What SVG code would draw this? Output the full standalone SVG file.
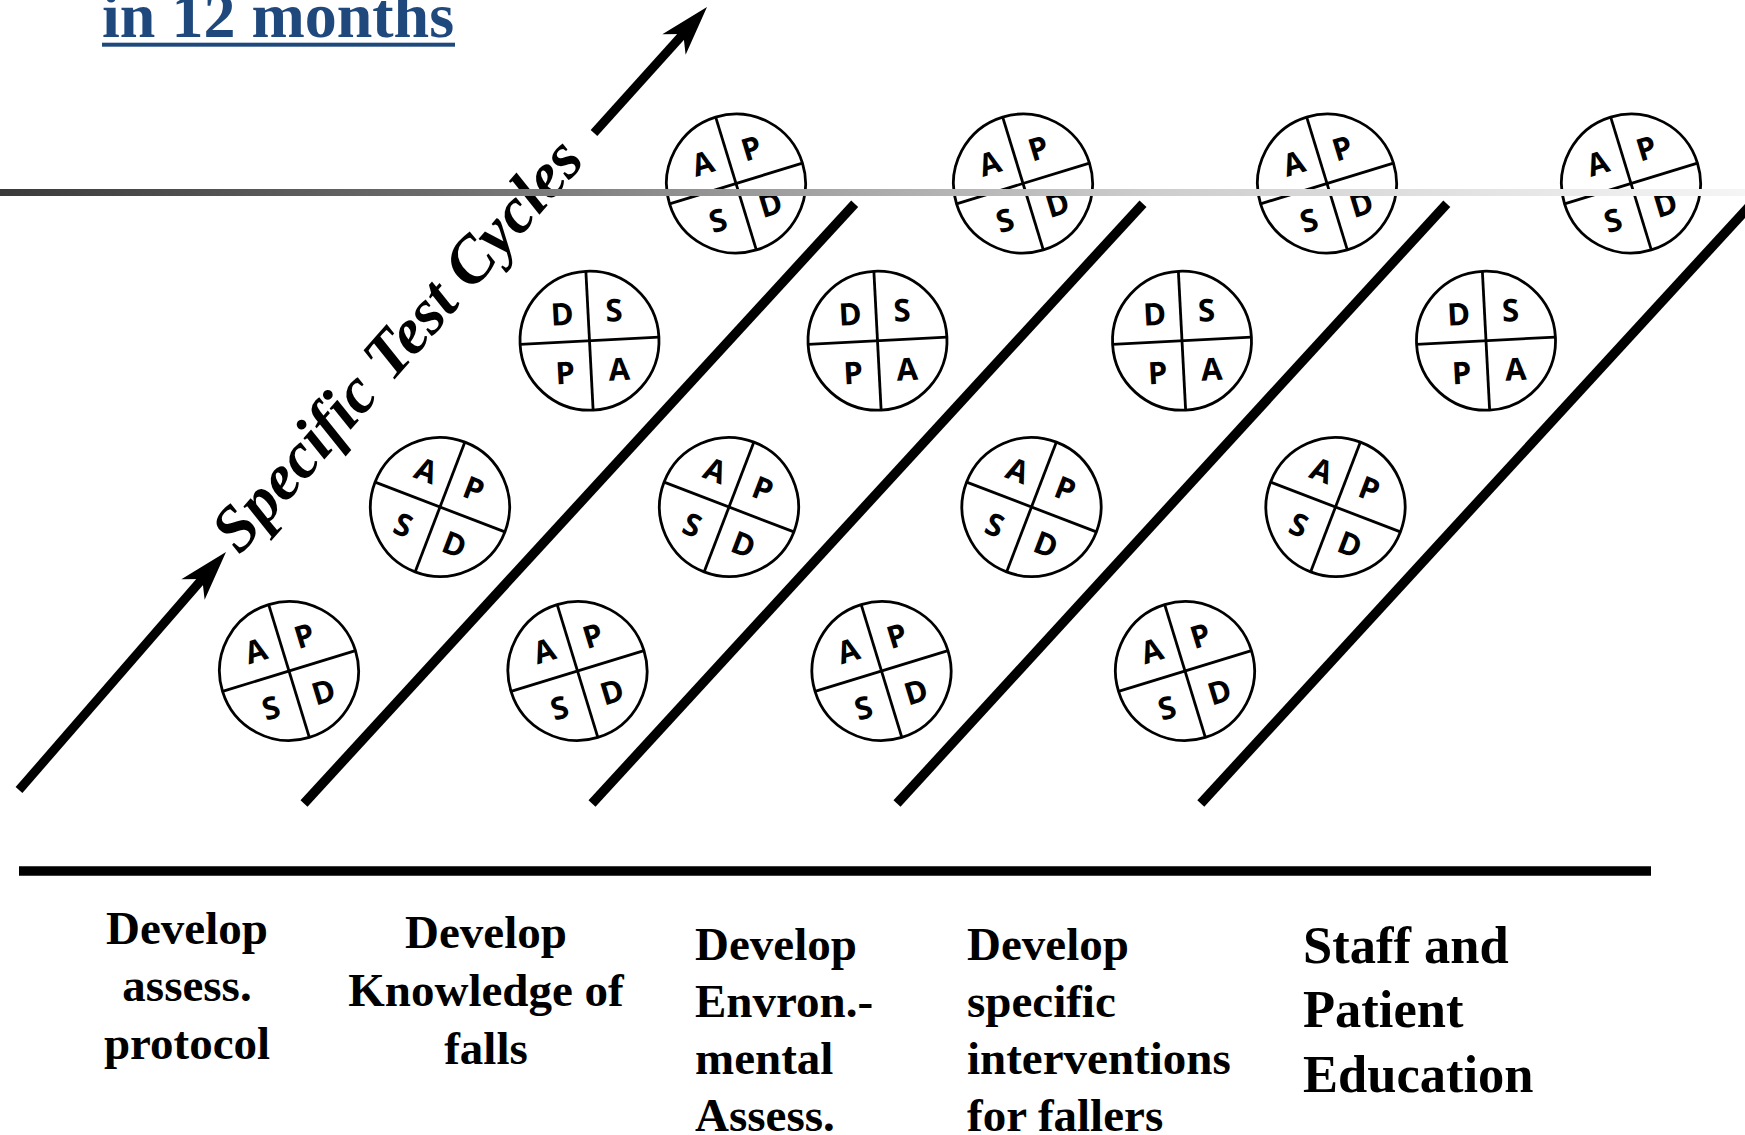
<svg xmlns="http://www.w3.org/2000/svg" width="1745" height="1135" viewBox="0 0 1745 1135">
  <style>
    .ring { fill: #ffffff; stroke: #000000; stroke-width: 2.8; }
    .cross { fill: none; stroke: #000000; stroke-width: 2.8; }
    .ltr { font-family: "Open Sans", "DejaVu Sans", sans-serif; font-weight: 700; font-size: 31px; fill: #000000; text-anchor: middle; }
    .sep { stroke: #000000; stroke-width: 9.5; stroke-linecap: butt; fill: none; }
    .shaft { stroke: #000000; stroke-width: 9; stroke-linecap: butt; fill: none; }
    .label { font-family: "Liberation Serif", "Times New Roman", serif; font-weight: bold; font-size: 47px; fill: #000000; }
    .label-lg { font-size: 52.5px; }
    .title { font-family: "Liberation Serif", "Times New Roman", serif; font-weight: bold; font-size: 64px; fill: #1f497d; }
    .diag { font-family: "Liberation Serif", "Times New Roman", serif; font-weight: bold; font-style: italic; font-size: 65px; fill: #000000; }
  </style>
  <defs>
    <linearGradient id="fade" x1="0" y1="0" x2="1745" y2="0" gradientUnits="userSpaceOnUse">
      <stop offset="0" stop-color="#3a3a3a"/>
      <stop offset="0.25" stop-color="#6c6c6c"/>
      <stop offset="0.46" stop-color="#a2a2a2"/>
      <stop offset="0.66" stop-color="#cdcdcd"/>
      <stop offset="1" stop-color="#f5f5f5"/>
    </linearGradient>
    <path id="head" d="M0,0 L-50,-15.5 L-36,0 L-50,15.5 Z" fill="#000000"/>
  </defs>

  <rect width="1745" height="1135" fill="#ffffff"/>

  <!-- heading -->
  <g id="title">
    <text class="title" x="102" y="37">in 12 months</text>
    <rect x="102" y="42.7" width="353" height="4" fill="#1f497d"/>
  </g>

  <!-- separators, baseline and the progress arrow -->
  <g id="connectors">
    <line class="sep" x1="304" y1="803.5" x2="854.7" y2="203.7"/>
    <line class="sep" x1="592" y1="803.5" x2="1143" y2="203.7"/>
    <line class="sep" x1="897" y1="803.5" x2="1446.8" y2="203.7"/>
    <line class="sep" x1="1200.8" y1="803.5" x2="1751.7" y2="203.7"/>
    <line class="sep" x1="19" y1="871" x2="1651" y2="871" stroke-width="10"/>
    <line class="shaft" x1="19" y1="790" x2="204" y2="577"/>
    <use href="#head" transform="translate(226,552) rotate(-48.7)"/>
    <line class="shaft" x1="594" y1="133" x2="685" y2="32"/>
    <use href="#head" transform="translate(707,7) rotate(-48.7)"/>
  </g>

  <g id="axis-label">
    <text class="diag" transform="translate(405,345) rotate(-48.7)" x="-5" y="15" text-anchor="middle">Specific Test Cycles</text>
  </g>

  <!-- PDSA cycles, row 1 -->
  <g id="cycle-1-1" transform="translate(736,183.5) rotate(-17)">
    <circle class="ring" r="69.5"/><line class="cross" x1="0" y1="-69.5" x2="0" y2="69.5"/><line class="cross" x1="-69.5" y1="0" x2="69.5" y2="0"/>
    <text class="ltr" x="-26" y="-18">A</text><text class="ltr" x="25" y="-18">P</text><text class="ltr" x="-28" y="41">S</text><text class="ltr" x="27" y="41">D</text>
  </g>
  <g id="cycle-1-2" transform="translate(1023,183.5) rotate(-17)">
    <circle class="ring" r="69.5"/><line class="cross" x1="0" y1="-69.5" x2="0" y2="69.5"/><line class="cross" x1="-69.5" y1="0" x2="69.5" y2="0"/>
    <text class="ltr" x="-26" y="-18">A</text><text class="ltr" x="25" y="-18">P</text><text class="ltr" x="-28" y="41">S</text><text class="ltr" x="27" y="41">D</text>
  </g>
  <g id="cycle-1-3" transform="translate(1327,183.5) rotate(-17)">
    <circle class="ring" r="69.5"/><line class="cross" x1="0" y1="-69.5" x2="0" y2="69.5"/><line class="cross" x1="-69.5" y1="0" x2="69.5" y2="0"/>
    <text class="ltr" x="-26" y="-18">A</text><text class="ltr" x="25" y="-18">P</text><text class="ltr" x="-28" y="41">S</text><text class="ltr" x="27" y="41">D</text>
  </g>
  <g id="cycle-1-4" transform="translate(1631,183.5) rotate(-17)">
    <circle class="ring" r="69.5"/><line class="cross" x1="0" y1="-69.5" x2="0" y2="69.5"/><line class="cross" x1="-69.5" y1="0" x2="69.5" y2="0"/>
    <text class="ltr" x="-26" y="-18">A</text><text class="ltr" x="25" y="-18">P</text><text class="ltr" x="-28" y="41">S</text><text class="ltr" x="27" y="41">D</text>
  </g>

  <!-- row 2 -->
  <g id="cycle-2-1" transform="translate(589.5,340.7) rotate(-3)">
    <circle class="ring" r="69.5"/><line class="cross" x1="0" y1="-69.5" x2="0" y2="69.5"/><line class="cross" x1="-69.5" y1="0" x2="69.5" y2="0"/>
    <text class="ltr" x="-26" y="-17">D</text><text class="ltr" x="26" y="-18">S</text><text class="ltr" x="-26" y="42">P</text><text class="ltr" x="28" y="41">A</text>
  </g>
  <g id="cycle-2-2" transform="translate(877.5,340.7) rotate(-3)">
    <circle class="ring" r="69.5"/><line class="cross" x1="0" y1="-69.5" x2="0" y2="69.5"/><line class="cross" x1="-69.5" y1="0" x2="69.5" y2="0"/>
    <text class="ltr" x="-26" y="-17">D</text><text class="ltr" x="26" y="-18">S</text><text class="ltr" x="-26" y="42">P</text><text class="ltr" x="28" y="41">A</text>
  </g>
  <g id="cycle-2-3" transform="translate(1182,340.7) rotate(-3)">
    <circle class="ring" r="69.5"/><line class="cross" x1="0" y1="-69.5" x2="0" y2="69.5"/><line class="cross" x1="-69.5" y1="0" x2="69.5" y2="0"/>
    <text class="ltr" x="-26" y="-17">D</text><text class="ltr" x="26" y="-18">S</text><text class="ltr" x="-26" y="42">P</text><text class="ltr" x="28" y="41">A</text>
  </g>
  <g id="cycle-2-4" transform="translate(1486,340.7) rotate(-3)">
    <circle class="ring" r="69.5"/><line class="cross" x1="0" y1="-69.5" x2="0" y2="69.5"/><line class="cross" x1="-69.5" y1="0" x2="69.5" y2="0"/>
    <text class="ltr" x="-26" y="-17">D</text><text class="ltr" x="26" y="-18">S</text><text class="ltr" x="-26" y="42">P</text><text class="ltr" x="28" y="41">A</text>
  </g>

  <!-- row 3 -->
  <g id="cycle-3-1" transform="translate(440,507) rotate(21)">
    <circle class="ring" r="69.5"/><line class="cross" x1="0" y1="-69.5" x2="0" y2="69.5"/><line class="cross" x1="-69.5" y1="0" x2="69.5" y2="0"/>
    <text class="ltr" x="-26" y="-18">A</text><text class="ltr" x="25" y="-18">P</text><text class="ltr" x="-28" y="41">S</text><text class="ltr" x="27" y="41">D</text>
  </g>
  <g id="cycle-3-2" transform="translate(729,507) rotate(21)">
    <circle class="ring" r="69.5"/><line class="cross" x1="0" y1="-69.5" x2="0" y2="69.5"/><line class="cross" x1="-69.5" y1="0" x2="69.5" y2="0"/>
    <text class="ltr" x="-26" y="-18">A</text><text class="ltr" x="25" y="-18">P</text><text class="ltr" x="-28" y="41">S</text><text class="ltr" x="27" y="41">D</text>
  </g>
  <g id="cycle-3-3" transform="translate(1031.5,507) rotate(21)">
    <circle class="ring" r="69.5"/><line class="cross" x1="0" y1="-69.5" x2="0" y2="69.5"/><line class="cross" x1="-69.5" y1="0" x2="69.5" y2="0"/>
    <text class="ltr" x="-26" y="-18">A</text><text class="ltr" x="25" y="-18">P</text><text class="ltr" x="-28" y="41">S</text><text class="ltr" x="27" y="41">D</text>
  </g>
  <g id="cycle-3-4" transform="translate(1335.5,507) rotate(21)">
    <circle class="ring" r="69.5"/><line class="cross" x1="0" y1="-69.5" x2="0" y2="69.5"/><line class="cross" x1="-69.5" y1="0" x2="69.5" y2="0"/>
    <text class="ltr" x="-26" y="-18">A</text><text class="ltr" x="25" y="-18">P</text><text class="ltr" x="-28" y="41">S</text><text class="ltr" x="27" y="41">D</text>
  </g>

  <!-- row 4 -->
  <g id="cycle-4-1" transform="translate(289,671) rotate(-17)">
    <circle class="ring" r="69.5"/><line class="cross" x1="0" y1="-69.5" x2="0" y2="69.5"/><line class="cross" x1="-69.5" y1="0" x2="69.5" y2="0"/>
    <text class="ltr" x="-26" y="-18">A</text><text class="ltr" x="25" y="-18">P</text><text class="ltr" x="-28" y="41">S</text><text class="ltr" x="27" y="41">D</text>
  </g>
  <g id="cycle-4-2" transform="translate(577.5,671) rotate(-17)">
    <circle class="ring" r="69.5"/><line class="cross" x1="0" y1="-69.5" x2="0" y2="69.5"/><line class="cross" x1="-69.5" y1="0" x2="69.5" y2="0"/>
    <text class="ltr" x="-26" y="-18">A</text><text class="ltr" x="25" y="-18">P</text><text class="ltr" x="-28" y="41">S</text><text class="ltr" x="27" y="41">D</text>
  </g>
  <g id="cycle-4-3" transform="translate(881.5,671) rotate(-17)">
    <circle class="ring" r="69.5"/><line class="cross" x1="0" y1="-69.5" x2="0" y2="69.5"/><line class="cross" x1="-69.5" y1="0" x2="69.5" y2="0"/>
    <text class="ltr" x="-26" y="-18">A</text><text class="ltr" x="25" y="-18">P</text><text class="ltr" x="-28" y="41">S</text><text class="ltr" x="27" y="41">D</text>
  </g>
  <g id="cycle-4-4" transform="translate(1185,671) rotate(-17)">
    <circle class="ring" r="69.5"/><line class="cross" x1="0" y1="-69.5" x2="0" y2="69.5"/><line class="cross" x1="-69.5" y1="0" x2="69.5" y2="0"/>
    <text class="ltr" x="-26" y="-18">A</text><text class="ltr" x="25" y="-18">P</text><text class="ltr" x="-28" y="41">S</text><text class="ltr" x="27" y="41">D</text>
  </g>

  <!-- fading horizon rule, drawn over the top row -->
  <rect id="horizon" x="0" y="189" width="1745" height="7" fill="url(#fade)"/>

  <!-- phase labels -->
  <g id="phase-1">
    <text class="label" text-anchor="middle"><tspan x="187" y="943.5">Develop</tspan><tspan x="187" y="1001">assess.</tspan><tspan x="187" y="1058.5">protocol</tspan></text>
  </g>
  <g id="phase-2">
    <text class="label" text-anchor="middle"><tspan x="486" y="948.3">Develop</tspan><tspan x="486" y="1006">Knowledge of</tspan><tspan x="486" y="1064">falls</tspan></text>
  </g>
  <g id="phase-3">
    <text class="label"><tspan x="695" y="960">Develop</tspan><tspan x="695" y="1017">Envron.-</tspan><tspan x="695" y="1074">mental</tspan><tspan x="695" y="1131">Assess.</tspan></text>
  </g>
  <g id="phase-4">
    <text class="label"><tspan x="967" y="960">Develop</tspan><tspan x="967" y="1017">specific</tspan><tspan x="967" y="1074">interventions</tspan><tspan x="967" y="1131">for fallers</tspan></text>
  </g>
  <g id="phase-5">
    <text class="label label-lg"><tspan x="1303" y="963.3">Staff and</tspan><tspan x="1303" y="1027">Patient</tspan><tspan x="1303" y="1091.7">Education</tspan></text>
  </g>
</svg>
